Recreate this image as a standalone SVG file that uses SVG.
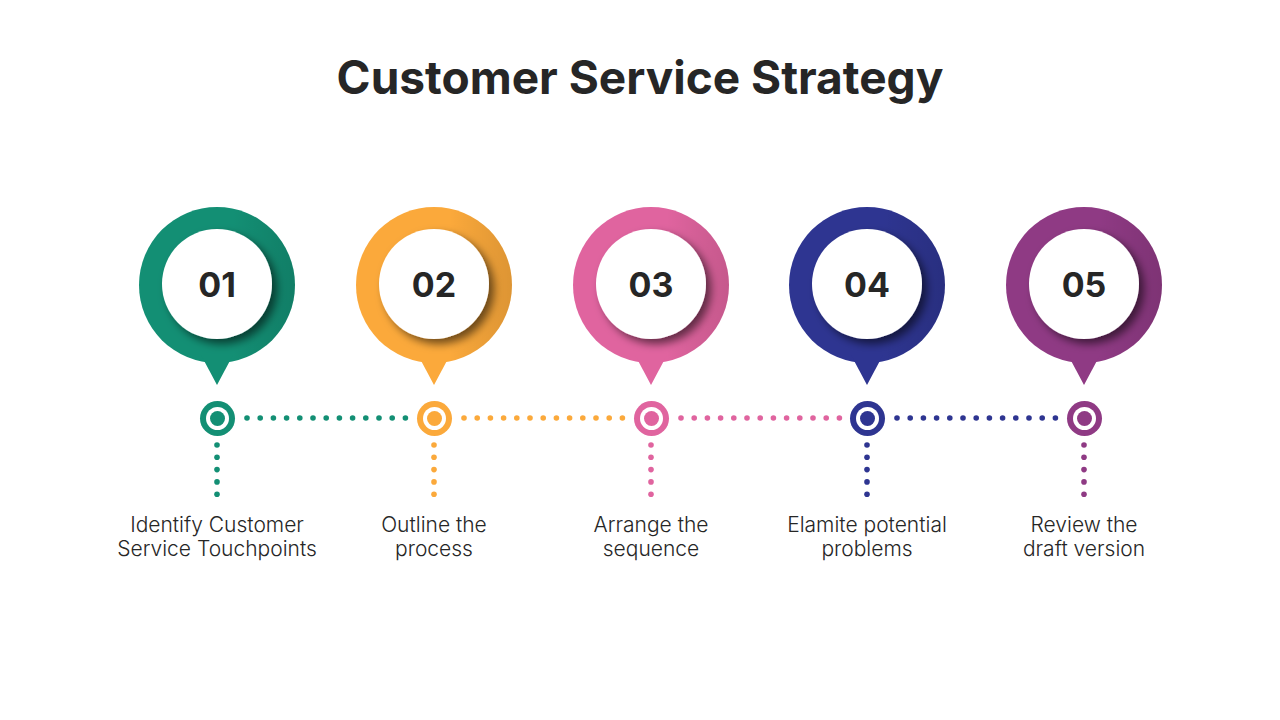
<svg xmlns="http://www.w3.org/2000/svg" width="1280" height="720" viewBox="0 0 1280 720">
  <defs>
    <filter id="sh" x="-30%" y="-30%" width="170%" height="170%">
      <feDropShadow dx="5" dy="5" stdDeviation="4" flood-color="#000" flood-opacity="0.55"/>
    </filter>
    <linearGradient id="shade" x1="0" y1="0" x2="1" y2="0">
      <stop offset="0" stop-color="#000" stop-opacity="0"/>
      <stop offset="0.6" stop-color="#000" stop-opacity="0"/>
      <stop offset="1" stop-color="#000" stop-opacity="0.12"/>
    </linearGradient>
    <g id="pinShape">
      <circle cx="0" cy="0" r="78"/>
      <path d="M -16 70 L 0 100 L 16 70 Z"/>
    </g>
  </defs>
  <style>
    .title { font-family: "Inter", "Open Sans", sans-serif; font-weight: 700; font-size: 46px; fill: #262626; text-anchor: middle; }
    .num { font-family: "Inter", "Open Sans", sans-serif; font-weight: 700; font-size: 34px; fill: #262626; text-anchor: middle; }
    .lbl { font-family: "Inter", "Open Sans", sans-serif; font-weight: 300; font-size: 21px; fill: #262626; text-anchor: middle; }
    .inner { fill: #ffffff; }
    .ringw { fill: #ffffff; }
  </style>
  <rect width="1280" height="720" fill="#ffffff"/>
  <text class="title" x="640" y="94">Customer Service Strategy</text>

  <g id="connectors">
    <g fill="#138F74">
      <circle cx="247" cy="418" r="2.8"/><circle cx="260.2" cy="418" r="2.8"/><circle cx="273.4" cy="418" r="2.8"/><circle cx="286.6" cy="418" r="2.8"/><circle cx="299.8" cy="418" r="2.8"/><circle cx="313" cy="418" r="2.8"/><circle cx="326.2" cy="418" r="2.8"/><circle cx="339.4" cy="418" r="2.8"/><circle cx="352.6" cy="418" r="2.8"/><circle cx="365.8" cy="418" r="2.8"/><circle cx="379" cy="418" r="2.8"/><circle cx="392.2" cy="418" r="2.8"/><circle cx="405.4" cy="418" r="2.8"/>
      <circle cx="217" cy="445" r="2.8"/><circle cx="217" cy="457.3" r="2.8"/><circle cx="217" cy="469.6" r="2.8"/><circle cx="217" cy="481.9" r="2.8"/><circle cx="217" cy="494.2" r="2.8"/>
    </g>
    <g fill="#FBA93B">
      <circle cx="464" cy="418" r="2.8"/><circle cx="477.2" cy="418" r="2.8"/><circle cx="490.4" cy="418" r="2.8"/><circle cx="503.6" cy="418" r="2.8"/><circle cx="516.8" cy="418" r="2.8"/><circle cx="530" cy="418" r="2.8"/><circle cx="543.2" cy="418" r="2.8"/><circle cx="556.4" cy="418" r="2.8"/><circle cx="569.6" cy="418" r="2.8"/><circle cx="582.8" cy="418" r="2.8"/><circle cx="596" cy="418" r="2.8"/><circle cx="609.2" cy="418" r="2.8"/><circle cx="622.4" cy="418" r="2.8"/>
      <circle cx="434" cy="445" r="2.8"/><circle cx="434" cy="457.3" r="2.8"/><circle cx="434" cy="469.6" r="2.8"/><circle cx="434" cy="481.9" r="2.8"/><circle cx="434" cy="494.2" r="2.8"/>
    </g>
    <g fill="#E0649F">
      <circle cx="681" cy="418" r="2.8"/><circle cx="694.2" cy="418" r="2.8"/><circle cx="707.4" cy="418" r="2.8"/><circle cx="720.6" cy="418" r="2.8"/><circle cx="733.8" cy="418" r="2.8"/><circle cx="747" cy="418" r="2.8"/><circle cx="760.2" cy="418" r="2.8"/><circle cx="773.4" cy="418" r="2.8"/><circle cx="786.6" cy="418" r="2.8"/><circle cx="799.8" cy="418" r="2.8"/><circle cx="813" cy="418" r="2.8"/><circle cx="826.2" cy="418" r="2.8"/><circle cx="839.4" cy="418" r="2.8"/>
      <circle cx="651" cy="445" r="2.8"/><circle cx="651" cy="457.3" r="2.8"/><circle cx="651" cy="469.6" r="2.8"/><circle cx="651" cy="481.9" r="2.8"/><circle cx="651" cy="494.2" r="2.8"/>
    </g>
    <g fill="#2E3591">
      <circle cx="897" cy="418" r="2.8"/><circle cx="910.2" cy="418" r="2.8"/><circle cx="923.4" cy="418" r="2.8"/><circle cx="936.6" cy="418" r="2.8"/><circle cx="949.8" cy="418" r="2.8"/><circle cx="963" cy="418" r="2.8"/><circle cx="976.2" cy="418" r="2.8"/><circle cx="989.4" cy="418" r="2.8"/><circle cx="1002.6" cy="418" r="2.8"/><circle cx="1015.8" cy="418" r="2.8"/><circle cx="1029" cy="418" r="2.8"/><circle cx="1042.2" cy="418" r="2.8"/><circle cx="1055.4" cy="418" r="2.8"/>
      <circle cx="867" cy="445" r="2.8"/><circle cx="867" cy="457.3" r="2.8"/><circle cx="867" cy="469.6" r="2.8"/><circle cx="867" cy="481.9" r="2.8"/><circle cx="867" cy="494.2" r="2.8"/>
    </g>
    <g fill="#8F3A84">
      <circle cx="1084" cy="445" r="2.8"/><circle cx="1084" cy="457.3" r="2.8"/><circle cx="1084" cy="469.6" r="2.8"/><circle cx="1084" cy="481.9" r="2.8"/><circle cx="1084" cy="494.2" r="2.8"/>
    </g>
  </g>

  <g id="step1">
    <g transform="translate(217,285)" fill="#138F74"><use href="#pinShape"/><circle r="78" fill="url(#shade)"/></g>
    <circle class="inner" cx="217" cy="284" r="55" filter="url(#sh)"/>
    <text class="num" x="217" y="297">01</text>
    <circle cx="217.5" cy="418.5" r="17.5" fill="#138F74"/>
    <circle class="ringw" cx="217.5" cy="418.5" r="11.5"/>
    <circle cx="217.5" cy="418.5" r="7.5" fill="#138F74"/>
    <text class="lbl" x="217" y="532">Identify Customer</text>
    <text class="lbl" x="217" y="556">Service Touchpoints</text>
  </g>
  <g id="step2">
    <g transform="translate(434,285)" fill="#FBA93B"><use href="#pinShape"/><circle r="78" fill="url(#shade)"/></g>
    <circle class="inner" cx="434" cy="284" r="55" filter="url(#sh)"/>
    <text class="num" x="434" y="297">02</text>
    <circle cx="434.5" cy="418.5" r="17.5" fill="#FBA93B"/>
    <circle class="ringw" cx="434.5" cy="418.5" r="11.5"/>
    <circle cx="434.5" cy="418.5" r="7.5" fill="#FBA93B"/>
    <text class="lbl" x="434" y="532">Outline the</text>
    <text class="lbl" x="434" y="556">process</text>
  </g>
  <g id="step3">
    <g transform="translate(651,285)" fill="#E0649F"><use href="#pinShape"/><circle r="78" fill="url(#shade)"/></g>
    <circle class="inner" cx="651" cy="284" r="55" filter="url(#sh)"/>
    <text class="num" x="651" y="297">03</text>
    <circle cx="651.5" cy="418.5" r="17.5" fill="#E0649F"/>
    <circle class="ringw" cx="651.5" cy="418.5" r="11.5"/>
    <circle cx="651.5" cy="418.5" r="7.5" fill="#E0649F"/>
    <text class="lbl" x="651" y="532">Arrange the</text>
    <text class="lbl" x="651" y="556">sequence</text>
  </g>
  <g id="step4">
    <g transform="translate(867,285)" fill="#2E3591"><use href="#pinShape"/><circle r="78" fill="url(#shade)"/></g>
    <circle class="inner" cx="867" cy="284" r="55" filter="url(#sh)"/>
    <text class="num" x="867" y="297">04</text>
    <circle cx="867.5" cy="418.5" r="17.5" fill="#2E3591"/>
    <circle class="ringw" cx="867.5" cy="418.5" r="11.5"/>
    <circle cx="867.5" cy="418.5" r="7.5" fill="#2E3591"/>
    <text class="lbl" x="867" y="532">Elamite potential</text>
    <text class="lbl" x="867" y="556">problems</text>
  </g>
  <g id="step5">
    <g transform="translate(1084,285)" fill="#8F3A84"><use href="#pinShape"/><circle r="78" fill="url(#shade)"/></g>
    <circle class="inner" cx="1084" cy="284" r="55" filter="url(#sh)"/>
    <text class="num" x="1084" y="297">05</text>
    <circle cx="1084.5" cy="418.5" r="17.5" fill="#8F3A84"/>
    <circle class="ringw" cx="1084.5" cy="418.5" r="11.5"/>
    <circle cx="1084.5" cy="418.5" r="7.5" fill="#8F3A84"/>
    <text class="lbl" x="1084" y="532">Review the</text>
    <text class="lbl" x="1084" y="556">draft version</text>
  </g>
</svg>
